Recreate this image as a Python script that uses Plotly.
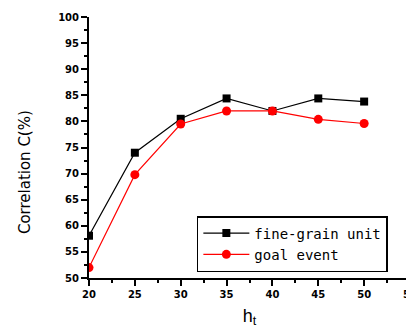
import plotly.graph_objects as go

h_t = [20, 25, 30, 35, 40, 45, 50]
fine_grain = [58.1, 74.0, 80.5, 84.4, 82.0, 84.4, 83.8]
goal_event = [52.0, 69.8, 79.5, 82.0, 82.0, 80.4, 79.6]
x_ticks = [20, 25, 30, 35, 40, 45, 50, 55]
y_ticks = [50, 55, 60, 65, 70, 75, 80, 85, 90, 95, 100]

fig = go.Figure()
fig.add_trace(go.Scatter(x=h_t, y=fine_grain, mode="lines+markers", name="fine-grain unit",
                         line=dict(color="black", width=1.2),
                         marker=dict(symbol="square", size=8, color="black")))
fig.add_trace(go.Scatter(x=h_t, y=goal_event, mode="lines+markers", name="goal event",
                         line=dict(color="red", width=1.2),
                         marker=dict(symbol="circle", size=9, color="red")))

tickfont = dict(family="DejaVu Sans", size=10, color="black", weight="bold")
fig.update_layout(
    width=414, height=332,
    margin=dict(l=81, r=12, t=9, b=62, autoexpand=False),
    paper_bgcolor="white", plot_bgcolor="white",
    showlegend=True,
    legend=dict(x=0.336, y=0.2375, xanchor="left", yanchor="top",
                bordercolor="black", borderwidth=1.5, bgcolor="white",
                font=dict(family="DejaVu Sans Mono", size=14, color="black"),
                tracegroupgap=0, itemwidth=46),
    xaxis=dict(range=[20, 55], tickvals=x_ticks, ticks="outside", ticklen=6, tickwidth=1.5,
               tickcolor="black", showline=True, linecolor="black", linewidth=2,
               showgrid=False, zeroline=False, tickfont=tickfont, automargin=False,
               ticklabeloverflow="allow",
               minor=dict(dtick=2.5, ticks="outside", ticklen=3, tickcolor="black", tickwidth=1.5),
               title=dict(text="h<sub>t</sub>", font=dict(family="Liberation Sans", size=18, color="black"), standoff=10)),
    yaxis=dict(range=[50, 100], tickvals=y_ticks, ticks="outside", ticklen=6, tickwidth=1.5,
               tickcolor="black", showline=True, linecolor="black", linewidth=2,
               showgrid=False, zeroline=False, tickfont=tickfont, automargin=False,
               minor=dict(dtick=2.5, ticks="outside", ticklen=3, tickcolor="black", tickwidth=1.5)),
    annotations=[dict(text="Correlation C(%)", xref="paper", yref="paper",
                      x=-0.2, y=0.405, xanchor="center", yanchor="middle", textangle=-90,
                      showarrow=False, font=dict(family="DejaVu Sans", size=15, color="black"))],
)
fig.write_html("out.html")
